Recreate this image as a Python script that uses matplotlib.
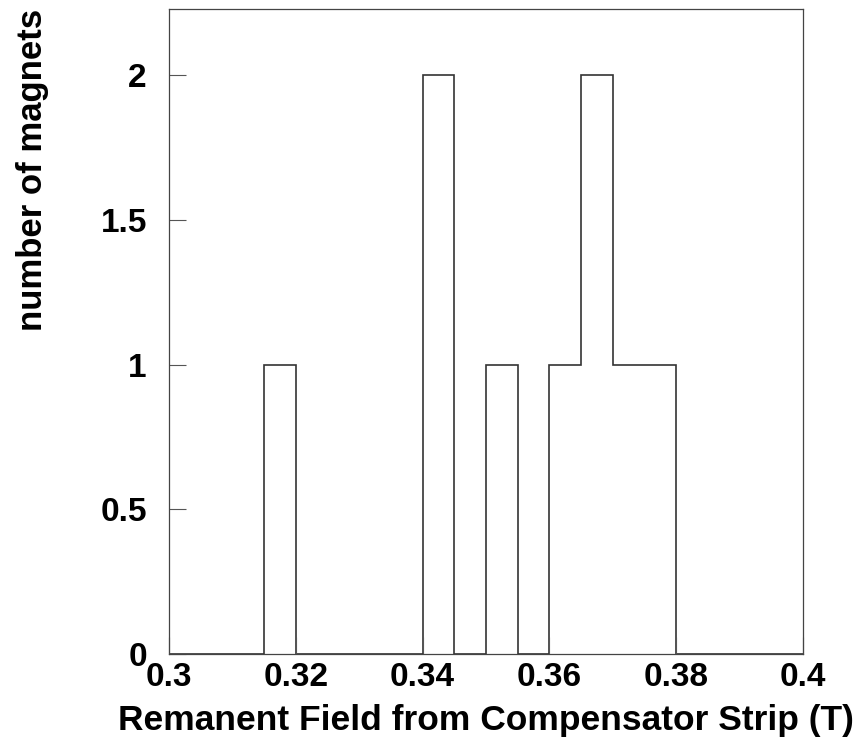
import matplotlib.pyplot as plt
import numpy as np

# histogram bins (T) and counts per bin
bin_edges = np.round(np.arange(0.300, 0.4001, 0.005), 3)
counts = [0, 0, 0, 1, 0, 0, 0, 0, 2, 0, 1, 0, 1, 2, 1, 1, 0, 0, 0, 0]

x_ticks = [0.3, 0.32, 0.34, 0.36, 0.38, 0.4]
x_tick_labels = ["0.3", "0.32", "0.34", "0.36", "0.38", "0.4"]
y_ticks = [0, 0.5, 1, 1.5, 2]
y_tick_labels = ["0", "0.5", "1", "1.5", "2"]

plt.rcParams['font.family'] = ['Liberation Sans', 'DejaVu Sans']
plt.rcParams['font.weight'] = 'bold'

fig = plt.figure(figsize=(8.6, 7.46), dpi=100)
ax = fig.add_axes([169 / 860, 1 - 654 / 746, (803 - 169) / 860, (654 - 9) / 746])

ax.stairs(counts, bin_edges, baseline=0, color='#333333', linewidth=1.2)

ax.set_xlim(0.3, 0.4)
ax.set_ylim(0, 2.228)

ax.set_xticks(x_ticks)
ax.set_xticklabels(x_tick_labels, fontsize=24, fontweight='bold')
ax.set_yticks(y_ticks)
ax.set_yticklabels(y_tick_labels, fontsize=24, fontweight='bold')
ax.tick_params(axis='both', direction='in', length=12, width=0.8, color='#555555')
ax.tick_params(axis='x', pad=6)
ax.tick_params(axis='y', pad=16)

for spine in ax.spines.values():
    spine.set_linewidth(0.9)
    spine.set_color('#444444')

ax.set_xlabel("Remanent Field from Compensator Strip (T)", fontsize=25.5,
              fontweight='bold', labelpad=8)
ax.set_ylabel("number of magnets", fontsize=25, fontweight='bold')
ax.yaxis.set_label_coords(-0.19, 0.75)

fig.savefig("out.png", dpi=100)
